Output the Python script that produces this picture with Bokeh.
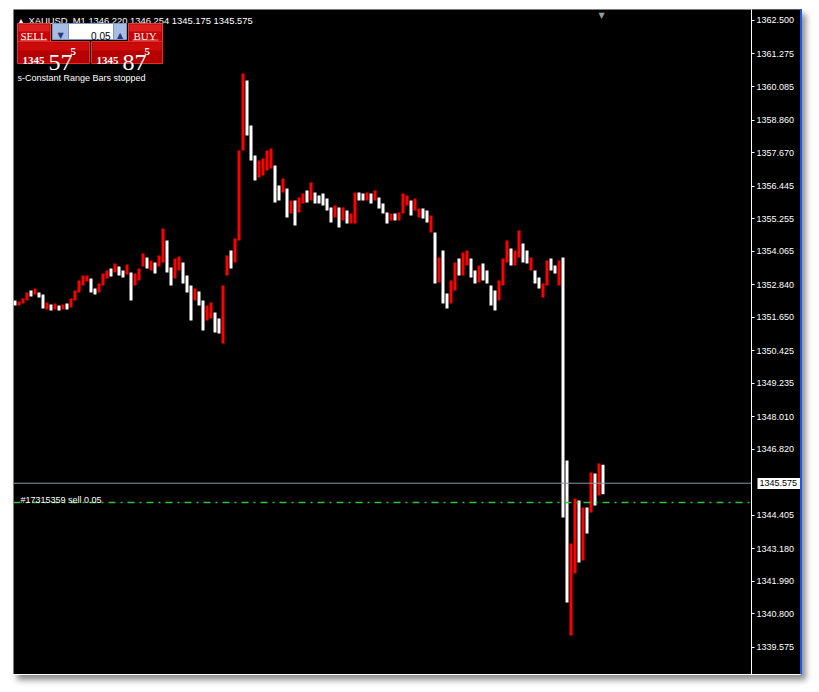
from bokeh.plotting import figure
from bokeh.models import (Span, Label, BoxAnnotation, FixedTicker, PrintfTickFormatter,
                          Range1d, ColumnDataSource, LinearAxis)
from bokeh.embed import file_html
from bokeh.resources import INLINE

# ---------------- data (XAUUSD M1) ----------------
bar_high = [
    1352.259, 1352.222, 1352.332, 1352.551, 1352.624, 1352.697, 1352.551, 1352.478, 1352.186, 1352.112,
    1352.149, 1352.076, 1352.112, 1352.149, 1352.332, 1352.624, 1352.990, 1353.173, 1353.173, 1353.063,
    1352.697, 1352.880, 1353.246, 1353.356, 1353.429, 1353.612, 1353.502, 1353.356, 1353.575, 1353.283,
    1353.246, 1353.429, 1353.977, 1353.831, 1353.721, 1353.648, 1353.904, 1354.891, 1354.453, 1353.465,
    1353.794, 1353.868, 1353.648, 1353.173, 1352.807, 1352.697, 1352.588, 1352.259, 1352.076, 1352.186,
    1351.820, 1351.600, 1352.807, 1353.904, 1354.087, 1354.526, 1357.745, 1360.560, 1360.305, 1358.660,
    1357.562, 1357.379, 1357.452, 1357.745, 1357.818, 1357.196, 1356.465, 1356.721, 1356.355, 1355.916,
    1355.916, 1356.026, 1356.172, 1356.282, 1356.575, 1356.209, 1356.099, 1356.172, 1355.989, 1355.660,
    1355.733, 1355.660, 1355.660, 1355.550, 1355.440, 1356.209, 1356.209, 1356.172, 1356.209, 1356.172,
    1356.282, 1356.026, 1355.806, 1355.477, 1355.440, 1355.440, 1355.477, 1356.172, 1356.099, 1355.916,
    1355.989, 1355.623, 1355.623, 1355.550, 1355.367, 1354.745, 1353.831, 1354.087, 1352.515, 1352.990,
    1353.648, 1353.794, 1354.014, 1354.087, 1353.794, 1353.356, 1353.538, 1353.612, 1353.356, 1352.807,
    1352.624, 1352.990, 1353.794, 1354.453, 1354.160, 1354.087, 1354.818, 1354.343, 1354.087, 1353.831,
    1353.356, 1353.100, 1352.880, 1353.721, 1353.794, 1353.538, 1353.721, 1353.831, 1346.406, 1343.370,
    1345.015, 1344.942, 1344.686, 1344.686, 1345.968, 1345.931, 1346.297, 1346.254,
]
bar_low = [
    1352.076, 1352.076, 1352.149, 1352.259, 1352.405, 1352.478, 1352.368, 1351.966, 1351.929, 1351.893,
    1351.929, 1351.893, 1351.929, 1351.929, 1352.003, 1352.259, 1352.551, 1352.807, 1352.953, 1352.551,
    1352.478, 1352.551, 1352.807, 1353.063, 1353.136, 1353.283, 1353.173, 1353.100, 1353.209, 1352.259,
    1352.807, 1352.990, 1353.502, 1353.429, 1353.356, 1353.246, 1353.502, 1353.648, 1353.283, 1352.807,
    1353.063, 1353.356, 1352.880, 1352.551, 1351.527, 1352.259, 1352.076, 1351.161, 1351.527, 1351.600,
    1351.088, 1351.051, 1350.685, 1353.173, 1353.429, 1353.648, 1354.453, 1357.745, 1358.294, 1357.379,
    1356.648, 1356.757, 1356.830, 1357.013, 1357.086, 1355.843, 1355.916, 1356.209, 1355.294, 1355.440,
    1355.001, 1355.477, 1355.806, 1355.843, 1355.916, 1355.806, 1355.806, 1355.733, 1355.550, 1355.111,
    1355.294, 1354.928, 1355.184, 1355.074, 1355.074, 1355.074, 1355.916, 1355.916, 1355.916, 1355.806,
    1355.916, 1355.623, 1355.440, 1355.074, 1355.184, 1355.184, 1355.184, 1355.440, 1355.733, 1355.367,
    1355.550, 1355.294, 1355.257, 1355.111, 1354.745, 1352.880, 1352.917, 1352.149, 1351.966, 1352.149,
    1352.624, 1353.173, 1353.173, 1353.538, 1353.100, 1352.880, 1352.917, 1352.990, 1352.880, 1352.076,
    1351.893, 1352.259, 1352.807, 1353.648, 1353.538, 1353.538, 1353.831, 1353.648, 1353.612, 1353.356,
    1352.880, 1352.697, 1352.368, 1352.807, 1353.356, 1353.246, 1352.807, 1344.320, 1341.212, 1340.006,
    1342.273, 1342.675, 1342.748, 1343.735, 1344.503, 1344.759, 1345.125, 1345.175,
]
# 1 = bullish bar (red), 0 = bearish bar (white)
bar_up = [
    0, 1, 1, 1, 0, 1, 0, 0, 1, 0,
    1, 0, 1, 0, 1, 1, 1, 1, 1, 0,
    0, 1, 1, 1, 0, 1, 0, 0, 1, 0,
    1, 1, 1, 0, 1, 0, 1, 1, 0, 0,
    1, 1, 0, 0, 0, 1, 0, 0, 1, 1,
    0, 0, 1, 1, 0, 1, 1, 1, 0, 0,
    0, 1, 1, 1, 1, 0, 0, 1, 0, 1,
    0, 1, 1, 0, 1, 0, 0, 0, 0, 0,
    1, 0, 1, 0, 1, 1, 0, 0, 1, 0,
    1, 0, 0, 0, 1, 0, 1, 1, 1, 0,
    1, 1, 0, 0, 1, 0, 1, 0, 0, 1,
    1, 0, 1, 1, 0, 0, 1, 0, 0, 0,
    0, 1, 1, 1, 0, 1, 1, 0, 0, 1,
    0, 0, 1, 1, 0, 0, 1, 0, 0, 1,
    1, 0, 1, 0, 1, 0, 1, 0,
]
price_ticks = [1362.500, 1361.275, 1360.085, 1358.860, 1357.670, 1356.445, 1355.255, 1354.065,
               1352.840, 1351.650, 1350.425, 1349.235, 1348.010, 1346.820, 1344.405, 1343.180,
               1341.990, 1340.800, 1339.575]
current_price = 1345.575
order_price = 1344.870
header_text = "XAUUSD..M1  1346.220 1346.254 1345.175 1345.575"
order_text = "#17315359 sell 0.05"
status_text = "s-Constant Range Bars stopped"
lot_text = "0.05"
bid_big, bid_pips, bid_frac = "1345", "57", "5"
ask_big, ask_pips, ask_frac = "1345", "87", "5"

# ---------------- layout constants ----------------
FIG_W, FIG_H = 789, 666
AXIS_W = 51
FRAME_W, FRAME_H = FIG_W - AXIS_W, FIG_H
X_LO = -0.375
X_HI = X_LO + FRAME_W / 4.0
Y_HI, Y_LO = 1362.902, 1338.542
PAGE_X0, PAGE_Y0 = 13, 9


def sx(px):
    return X_LO + (px - PAGE_X0) * (X_HI - X_LO) / FRAME_W


def sy(py):
    return Y_HI - (py - PAGE_Y0) * (Y_HI - Y_LO) / FRAME_H


p = figure(width=FIG_W, height=FIG_H,
           x_range=Range1d(X_LO, X_HI), y_range=Range1d(Y_LO, Y_HI),
           x_axis_location=None, y_axis_location="right",
           output_backend="svg", toolbar_location=None,
           background_fill_color="black", border_fill_color="black",
           min_border_left=0, min_border_right=AXIS_W, min_border_top=0, min_border_bottom=0,
           margin=(9, 0, 0, 13))
p.styles = {"border-right": "2px solid #1f55f0",
            "border-bottom": "1px solid #ffffff",
            "box-shadow": "4px 5px 6px rgba(0,0,0,0.45)"}
p.outline_line_color = None
p.grid.visible = False

ax = p.yaxis[0]
ax.ticker = FixedTicker(ticks=price_ticks)
ax.formatter = PrintfTickFormatter(format="%.3f")
ax.axis_line_color = "white"
ax.major_tick_line_color = "white"
ax.major_tick_out = 3
ax.major_tick_in = 0
ax.minor_tick_line_color = None
ax.major_label_text_color = "white"
ax.major_label_text_font = "Liberation Sans"
ax.major_label_text_font_size = "9px"
ax.major_label_standoff = 2
try:
    ax.background_fill_color = "black"
except Exception:
    pass

# price tag for the current price: a second axis with one fat white tick, label drawn over it
tag_axis = LinearAxis(ticker=FixedTicker(ticks=[current_price]),
                      formatter=PrintfTickFormatter(format="%.3f"),
                      axis_line_color=None, minor_tick_line_color=None,
                      major_tick_line_color="white", major_tick_line_width=11,
                      major_tick_in=40, major_tick_out=4,
                      major_label_text_color="black", major_label_text_font="Liberation Sans",
                      major_label_text_font_size="9px", major_label_standoff=-42)
try:
    tag_axis.background_fill_color = "black"
except Exception:
    pass
p.add_layout(tag_axis, "right")

src = ColumnDataSource(dict(
    x=list(range(len(bar_high))),
    top=bar_high,
    bottom=bar_low,
    color=["#ff0000" if u else "#ffffff" for u in bar_up],
))
p.vbar(x="x", top="top", bottom="bottom", width=0.75, fill_color="color",
       line_color=None, source=src)

p.add_layout(Span(location=current_price, dimension="width", line_color="#8c96a0", line_width=1))
p.add_layout(Span(location=order_price, dimension="width", line_color="#36c236",
                  line_width=1.3, line_dash="7 5 2 5"))


def box(x0, y0, x1, y1, color, line=None):
    p.add_layout(BoxAnnotation(left=sx(x0), right=sx(x1), top=sy(y0), bottom=sy(y1),
                               fill_color=color, fill_alpha=1.0,
                               line_color=line, line_alpha=1.0 if line else 0.0, line_width=1))


def label(px, py, text, size="9px", color="white", font="Liberation Sans", align="left",
          baseline="alphabetic", style="normal"):
    p.add_layout(Label(x=sx(px), y=sy(py), text=text, text_color=color, text_font=font,
                       text_font_size=size, text_align=align, text_baseline=baseline,
                       text_font_style=style))


# header
label(17, 19.5, "\u25B2", size="7px")
label(28, 19.5, header_text, size="9.4px")

# one-click trading panel
box(17, 23, 50, 41, "#c80000", "#e04040")
box(18, 24, 49, 31, "#dc2020")
box(20, 39, 47, 40, "#e89090")
label(20, 35.5, "SELL", size="11px", font="Liberation Serif")
box(52, 23, 68, 39, "#a8bde3", "#7f97c8")
label(60, 35, "\u25BC", size="8px", color="#23397a", align="center", font="DejaVu Sans")
box(68, 23, 113, 39, "#ffffff", "#7f97c8")
label(110, 35.5, lot_text, size="10px", color="black", align="right")
box(113, 23, 126, 39, "#a8bde3", "#7f97c8")
label(119.5, 35, "\u25B2", size="8px", color="#23397a", align="center", font="DejaVu Sans")
box(128, 23, 162, 41, "#c80000", "#e04040")
box(129, 24, 161, 31, "#dc2020")
box(132, 39, 158, 40, "#e89090")
label(133, 35.5, "BUY", size="11px", font="Liberation Serif")

for bx0, bx1, big, pips, frac, tx in ((17, 89, bid_big, bid_pips, bid_frac, 22),
                                      (91, 162, ask_big, ask_pips, ask_frac, 96)):
    box(bx0, 41, bx1, 63, "#b40000", "#e03030")
    box(bx0 + 1, 42, bx1 - 1, 50, "#cc0a0a")
    label(tx, 59.5, big, size="11px", font="Liberation Serif", style="bold")
    label(tx + 26, 61.5, pips, size="24px", font="Liberation Serif")
    label(tx + 48, 50.5, frac, size="11px", font="Liberation Serif", style="bold")

label(17, 77.5, status_text)
label(20, 499.5, order_text)

# chart-shift marker
label(601, 15, "\u25BC", size="8px", color="#9a9a9a", align="center", font="DejaVu Sans")

open("out.html", "w").write(file_html(p, INLINE))
